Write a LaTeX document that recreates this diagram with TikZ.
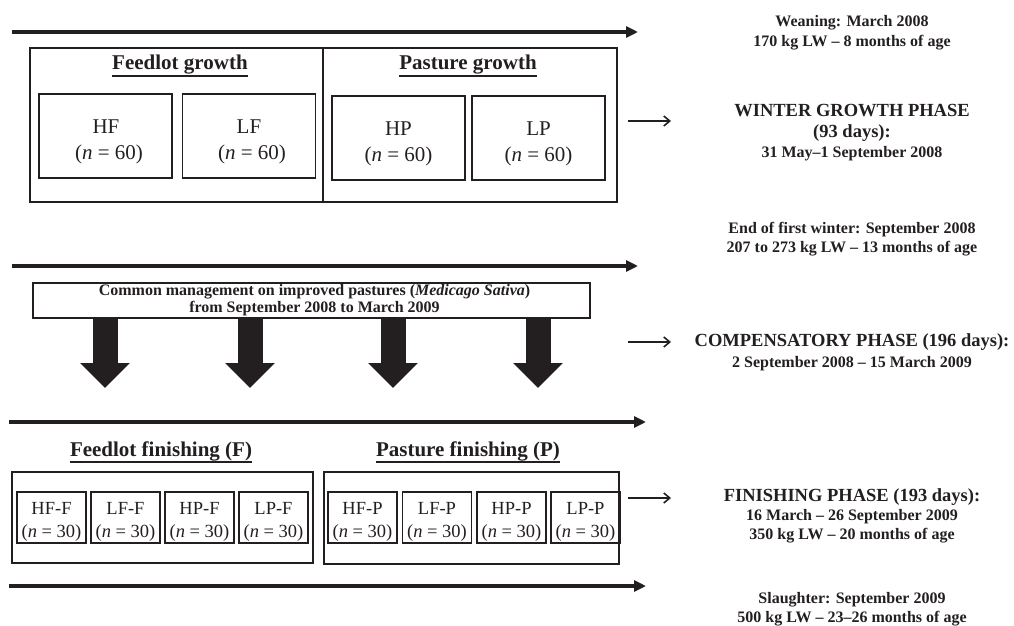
\documentclass[tikz,border=0pt]{standalone}
\usepackage{fontspec}
\setmainfont{Liberation Serif}
\usetikzlibrary{arrows.meta}
\definecolor{ink}{RGB}{35,31,32}
\newcommand{\fsz}[2]{\fontsize{#1}{#2}\selectfont}
\begin{document}
\begin{tikzpicture}[x=1pt,y=-1pt,
  every node/.style={text=ink},
  timeline/.style={draw=ink,line width=4pt,-{Triangle[length=12pt,width=11pt]}},
  outerbox/.style={draw=ink,line width=1.8pt,rectangle,inner sep=0pt},
  gbox/.style={draw=ink,line width=1.4pt,rectangle,inner sep=0pt,minimum width=133pt,minimum height=84pt},
  fbox/.style={draw=ink,line width=1.8pt,rectangle,inner sep=0pt,minimum width=69pt,minimum height=51pt},
  gtext/.style={inner sep=0pt,font=\fsz{21}{21}},
  ftext/.style={inner sep=0pt,font=\fsz{18.5}{18.5}},
  heading/.style={inner sep=0pt,anchor=base,font=\fsz{21}{21}\bfseries},
  uline/.style={draw=ink,line width=2.8pt},
  phase/.style={inner sep=0pt,align=center},
  pointer/.style={draw=ink,line width=1.6pt,-{Straight Barb[length=6pt,width=10pt,line width=1.6pt]}},
  bigdown/.style={draw=ink,line width=25pt,-{Triangle[length=25pt,width=48pt]}}
]
\useasboundingbox (0,0) rectangle (1014,626);

% ---------- time lines ----------
\coordinate (t1a) at (12,32);  \coordinate (t1b) at (638,32);
\coordinate (t2a) at (12,266); \coordinate (t2b) at (638,266);
\coordinate (t3a) at (9,422);  \coordinate (t3b) at (646,422);
\coordinate (t4a) at (9,586);  \coordinate (t4b) at (646,586);
\draw[timeline] (t1a) -- (t1b);
\draw[timeline] (t2a) -- (t2b);
\draw[timeline] (t3a) -- (t3b);
\draw[timeline] (t4a) -- (t4b);

% ---------- winter growth ----------
\node[outerbox,minimum width=293pt,minimum height=154pt] (fg) at (176.5,125) {};
\node[outerbox,minimum width=294pt,minimum height=154pt] (pg) at (470,125) {};
\node[heading] (fgh) at (180,70) {Feedlot growth};
\draw[uline] (fgh.base west) ++(0,6) -- ([yshift=-6pt]fgh.base east);
\node[heading] (pgh) at (468,70) {Pasture growth};
\draw[uline] (pgh.base west) ++(0,6) -- ([yshift=-6pt]pgh.base east);

\node[gbox] (hf) at (105.5,136) {};
\node[gbox] (lf) at (249,136) {};
\node[gbox] (hp) at (398.5,138) {};
\node[gbox] (lp) at (538.5,138) {};
\node[gtext] (hf1) at (106,127) {HF};
\node[gtext] (hf2) at (109,154) {(\textit{n} = 60)};
\node[gtext] (lf1) at (249,127) {LF};
\node[gtext] (lf2) at (252,154) {(\textit{n} = 60)};
\node[gtext] (hp1) at (398.5,129) {HP};
\node[gtext] (hp2) at (398.5,156) {(\textit{n} = 60)};
\node[gtext] (lp1) at (538.5,129) {LP};
\node[gtext] (lp2) at (538.5,156) {(\textit{n} = 60)};

% ---------- common management ----------
\node[draw=ink,line width=1.3pt,rectangle,minimum width=557pt,minimum height=35pt,inner sep=0pt] (cm) at (311.5,300.5) {};
\node[phase,font=\fsz{16}{16.5}\bfseries] (cmt) at (314.5,300)
  {Common management on improved pastures (\textit{Medicago Sativa})\\from September 2008 to March 2009};
\foreach \x/\n in {105/a,250/b,393/c,538/d}{
  \coordinate (d\n) at (\x,388);
  \draw[bigdown] (cm.south -| d\n) -- (d\n);
}

% ---------- finishing ----------
\node[heading] (ffh) at (161,456) {Feedlot finishing (F)};
\draw[uline] (ffh.base west) ++(0,6) -- ([yshift=-6pt]ffh.base east);
\node[heading] (pfh) at (468,456) {Pasture finishing (P)};
\draw[uline] (pfh.base west) ++(0,6) -- ([yshift=-6pt]pfh.base east);
\node[outerbox,minimum width=301pt,minimum height=91pt] (ff) at (162.5,517.5) {};
\node[outerbox,minimum width=295pt,minimum height=92pt] (pf) at (471.5,518) {};

\foreach \x/\n/\t in {51.5/a/HF-F,125.5/b/LF-F,199.5/c/HP-F,273.5/d/LP-F,
                      362.5/e/HF-P,437/f/LF-P,511.5/g/HP-P,585.5/h/LP-P}{
  \node[fbox] (f\n) at (\x,517.5) {};
  \node[ftext] (f\n1) at (\x,508) {\t};
  \node[ftext] (f\n2) at (\x,533) {(\textit{n} = 30)};
}

% ---------- right column ----------
\node[phase,font=\fsz{16}{20}\bfseries] (wean) at (852,33)
  {Weaning: March 2008\\170 kg LW -- 8 months of age};
\node[phase,font=\fsz{18.5}{20.5}\bfseries] (wint) at (852,133)
  {WINTER GROWTH PHASE\\(93 days):\\{\fsz{16}{20.5}31 May--1 September 2008}};
\node[phase,font=\fsz{16}{19}\bfseries] (endw) at (852,239)
  {End of first winter: September 2008\\207 to 273 kg LW -- 13 months of age};
\node[phase,font=\fsz{18.5}{21}\bfseries] (comp) at (852,352)
  {COMPENSATORY PHASE (196 days):\\{\fsz{16}{21}2 September 2008 -- 15 March 2009}};
\node[phase,font=\fsz{18.5}{19}\bfseries] (fin) at (852,516)
  {FINISHING PHASE (193 days):\\{\fsz{16}{19}16 March -- 26 September 2009}\\{\fsz{16}{19}350 kg LW -- 20 months of age}};
\node[phase,font=\fsz{16}{18.5}\bfseries] (sla) at (852,609)
  {Slaughter: September 2009\\500 kg LW -- 23--26 months of age};

\coordinate (p1a) at (628,121); \coordinate (p1b) at (671,121);
\coordinate (p2a) at (628,342); \coordinate (p2b) at (671,342);
\coordinate (p3a) at (628,498); \coordinate (p3b) at (671,498);
\draw[pointer] (p1a) -- (p1b);
\draw[pointer] (p2a) -- (p2b);
\draw[pointer] (p3a) -- (p3b);
\end{tikzpicture}
\end{document}
